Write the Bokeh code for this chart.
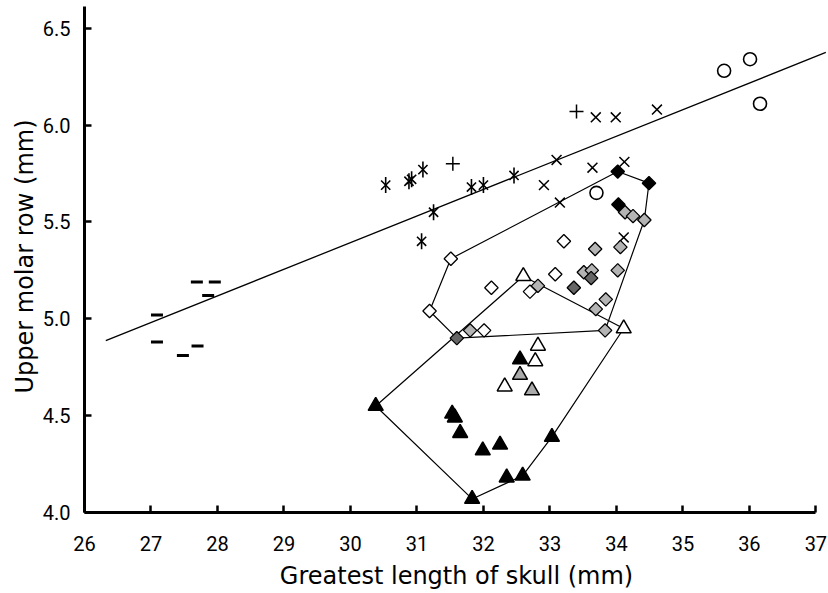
import math
from bokeh.plotting import figure
from bokeh.models import Range1d, FixedTicker, NumeralTickFormatter
from bokeh.embed import file_html
from bokeh.resources import INLINE

# ---- data ----
x_ticks = [26, 27, 28, 29, 30, 31, 32, 33, 34, 35, 36, 37]
y_ticks = [4.0, 4.5, 5.0, 5.5, 6.0, 6.5]

dash_x = [27.09, 27.09, 27.48, 27.70, 27.86, 27.69, 27.96]
dash_y = [5.02, 4.88, 4.81, 4.86, 5.12, 5.19, 5.19]

star_x = [30.53, 30.88, 30.92, 31.09, 31.82, 32.00, 31.25, 31.07, 32.46]
star_y = [5.69, 5.71, 5.72, 5.77, 5.68, 5.69, 5.55, 5.40, 5.74]

plus_x = [31.54, 33.40]
plus_y = [5.80, 6.07]

xmark_x = [33.69, 33.99, 34.61, 33.10, 33.64, 34.12, 32.91, 33.15, 34.11]
xmark_y = [6.04, 6.04, 6.08, 5.82, 5.78, 5.81, 5.69, 5.60, 5.42]

circle_x = [35.62, 36.01, 36.16, 33.70]
circle_y = [6.28, 6.34, 6.11, 5.65]

dia_black_x = [34.02, 34.49, 34.03]
dia_black_y = [5.76, 5.70, 5.59]

dia_light_x = [34.13, 34.25, 34.42, 33.68, 34.06, 33.51, 33.63, 34.02, 32.82,
               33.84, 33.69, 33.83, 31.80]
dia_light_y = [5.55, 5.53, 5.51, 5.36, 5.37, 5.24, 5.25, 5.25, 5.17,
               5.10, 5.05, 4.94, 4.94]

dia_dark_x = [33.62, 33.36, 31.60]
dia_dark_y = [5.21, 5.16, 4.90]

dia_white_x = [31.51, 33.21, 33.08, 32.12, 32.70, 31.19, 32.01]
dia_white_y = [5.31, 5.40, 5.23, 5.16, 5.14, 5.04, 4.94]

tri_white_x = [32.60, 34.11, 32.82, 32.78, 32.32]
tri_white_y = [5.22, 4.95, 4.86, 4.78, 4.65]

tri_gray_x = [32.55, 32.73]
tri_gray_y = [4.71, 4.63]

tri_black_x = [32.55, 31.53, 31.57, 31.65, 31.99, 32.25, 32.35, 32.59, 33.03, 31.83, 30.38]
tri_black_y = [4.79, 4.51, 4.49, 4.41, 4.32, 4.35, 4.18, 4.19, 4.39, 4.07, 4.55]

# convex hulls (closed)
hull_dia_x = [31.51, 34.02, 34.49, 34.42, 33.83, 31.60, 31.19, 31.51]
hull_dia_y = [5.31, 5.76, 5.70, 5.51, 4.94, 4.90, 5.04, 5.31]

hull_tri_x = [30.38, 32.60, 34.11, 33.03, 32.59, 31.83, 30.38]
hull_tri_y = [4.55, 5.22, 4.95, 4.39, 4.19, 4.07, 4.55]

# regression line
fit_intercept = 1.274
fit_slope = 0.1373
fit_x = [26.32, 37.15]
fit_y = [fit_intercept + fit_slope * v for v in fit_x]

TICK_FONT = "Roboto"
LABEL_FONT = "DejaVu Sans"

p = figure(width=828, height=593, output_backend="svg", toolbar_location=None,
           x_range=Range1d(26, 37.19), y_range=Range1d(4.0, 6.643),
           min_border_left=84, min_border_right=0, min_border_top=0,
           min_border_bottom=81)
p.grid.visible = False
p.outline_line_color = None
p.background_fill_color = "white"
p.border_fill_color = "white"

# lines
p.line(fit_x, fit_y, line_color="black", line_width=1.3)
p.line(hull_dia_x, hull_dia_y, line_color="black", line_width=1.2)
p.line(hull_tri_x, hull_tri_y, line_color="black", line_width=1.2)

# markers
p.scatter(dash_x, dash_y, marker="dash", size=12, line_color="black", line_width=3)
p.scatter(star_x, star_y, marker="x", size=13, line_color="black", line_width=1.6)
p.scatter(star_x, star_y, marker="dash", size=16, angle=math.pi / 2,
          line_color="black", line_width=1.6)
p.scatter(plus_x, plus_y, marker="cross", size=14, line_color="black", line_width=1.5)
p.scatter(xmark_x, xmark_y, marker="x", size=14, line_color="black", line_width=1.5)
p.scatter(circle_x, circle_y, marker="circle", size=13, fill_color="white",
          line_color="black", line_width=1.6)

sq = 9.5
p.scatter(dia_white_x, dia_white_y, marker="square", size=sq, angle=math.pi / 4,
          fill_color="white", line_color="black", line_width=1.3)
p.scatter(dia_light_x, dia_light_y, marker="square", size=sq, angle=math.pi / 4,
          fill_color="#b4b4b4", line_color="black", line_width=1.3)
p.scatter(dia_dark_x, dia_dark_y, marker="square", size=sq, angle=math.pi / 4,
          fill_color="#666666", line_color="black", line_width=1.3)
p.scatter(dia_black_x, dia_black_y, marker="square", size=sq, angle=math.pi / 4,
          fill_color="black", line_color="black", line_width=1.3)

p.scatter(tri_white_x, tri_white_y, marker="triangle", size=15, fill_color="white",
          line_color="black", line_width=1.5)
p.scatter(tri_gray_x, tri_gray_y, marker="triangle", size=15, fill_color="#aaaaaa",
          line_color="black", line_width=1.5)
p.scatter(tri_black_x, tri_black_y, marker="triangle", size=15, fill_color="black",
          line_color="black", line_width=1.5)

# axes
for ax in (p.xaxis[0], p.yaxis[0]):
    ax.axis_line_width = 3
    ax.axis_line_color = "black"
    ax.major_tick_line_width = 2.5
    ax.major_tick_line_color = "black"
    ax.major_tick_in = 7
    ax.major_tick_out = 0
    ax.minor_tick_line_color = None
    ax.major_label_text_font = TICK_FONT
    ax.major_label_text_font_size = "20px"
    ax.major_label_text_color = "black"
    ax.axis_label_text_font = LABEL_FONT
    ax.axis_label_text_font_size = "24px"
    ax.axis_label_text_font_style = "normal"
    ax.axis_label_text_color = "black"

p.xaxis.ticker = FixedTicker(ticks=x_ticks)
p.yaxis.ticker = FixedTicker(ticks=y_ticks)
p.yaxis.formatter = NumeralTickFormatter(format="0.0")
p.xaxis.bounds = (26, 37)
p.yaxis.bounds = (4.0, 6.61)
p.xaxis.axis_label = "Greatest length of skull (mm)"
p.yaxis.axis_label = "Upper molar row (mm)"
p.xaxis.major_label_standoff = 23
p.yaxis.major_label_standoff = 14
p.xaxis.axis_label_standoff = 8
p.yaxis.axis_label_standoff = 1

open("out.html", "w").write(file_html(p, INLINE))
